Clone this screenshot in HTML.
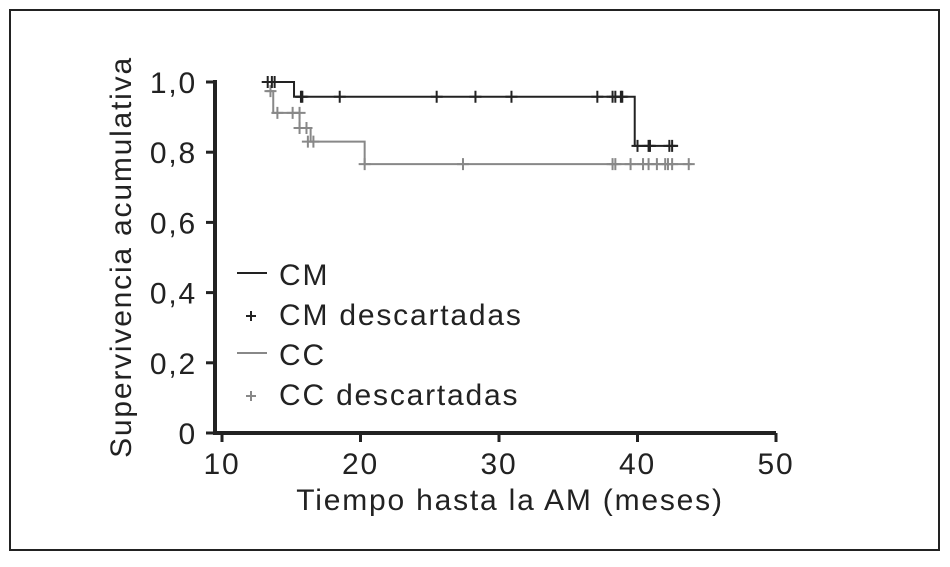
<!DOCTYPE html>
<html><head><meta charset="utf-8"><style>
body{margin:0;background:#fff}
svg text{font-family:"Liberation Sans",sans-serif;fill:#222;letter-spacing:1.8px}
</style></head><body>
<svg width="950" height="562">
<rect x="10" y="10" width="929" height="540" fill="none" stroke="#222" stroke-width="2"/>
<g id="g"></g>
</svg>
<script>
const xTicks=[10,20,30,40,50];
const yTicks=[0,0.2,0.4,0.6,0.8,1.0];
const yTickLabels=["0","0,2","0,4","0,6","0,8","1,0"];
const cmTimes=[13.0,15.2,39.8,42.9];
const cmSurv=[1.0,0.958,0.818,0.818];
const cmCensT=[13.3,13.6,13.8,15.7,15.8,18.5,25.5,28.3,30.9,37.1,38.2,38.4,38.8,38.9,40.0,40.8,40.9,42.3,42.5];
const cmCensS=[1,1,1,0.958,0.958,0.958,0.958,0.958,0.958,0.958,0.958,0.958,0.958,0.958,0.818,0.818,0.818,0.818,0.818];
const ccTimes=[13.2,13.7,15.6,16.4,20.3,43.9];
const ccSurv=[0.974,0.912,0.869,0.83,0.766,0.766];
const ccCensT=[13.5,14.0,15.1,15.6,15.6,16.1,16.2,16.6,20.3,27.4,38.2,38.4,39.5,40.4,40.8,41.4,42.0,42.2,42.5,43.7];
const ccCensS=[0.974,0.912,0.912,0.912,0.869,0.869,0.83,0.83,0.766,0.766,0.766,0.766,0.766,0.766,0.766,0.766,0.766,0.766,0.766,0.766];
const NS="http://www.w3.org/2000/svg",g=document.getElementById('g');
const X=v=>222+(v-10)*13.85, Y=v=>433-v*351;
function mk(t,a){const e=document.createElementNS(NS,t);for(const k in a)e.setAttribute(k,a[k]);g.appendChild(e);return e;}
let e=mk('line',{x1:215,y1:Y(1)-2,x2:215,y2:434,stroke:'#222','stroke-width':4});


e=mk('line',{x1:213,y1:433,x2:776,y2:433,stroke:'#222','stroke-width':4});


xTicks.forEach(v=>{mk('line',{x1:X(v),y1:433,x2:X(v),y2:442,stroke:'#222','stroke-width':3});
 const t=mk('text',{x:X(v),y:474,'font-size':30,'text-anchor':'middle'});t.textContent=v;
 
 });
yTicks.forEach((v,i)=>{mk('line',{x1:206,y1:Y(v),x2:215,y2:Y(v),stroke:'#222','stroke-width':3});
 const t=mk('text',{x:197,y:Y(v)+11,'font-size':30,'text-anchor':'end'});t.textContent=yTickLabels[i];
 
 });
function step(T,S,c,name){let d='M'+X(T[0])+','+Y(S[0]);for(let i=1;i<T.length;i++){d+='H'+X(T[i])+'V'+Y(S[i]);}
 const p=mk('path',{d:d,fill:'none',stroke:c,'stroke-width':2});
 
 }
function cens(T,S,c,name){T.forEach((t,i)=>{const p=mk('path',{d:`M${X(t)-6},${Y(S[i])}h12M${X(t)},${Y(S[i])-6}v12`,stroke:c,'stroke-width':2});
 
 });}
step(ccTimes,ccSurv,'#888','cc-curve');cens(ccCensT,ccCensS,'#888','cc-censor');
step(cmTimes,cmSurv,'#222','cm-curve');cens(cmCensT,cmCensS,'#222','cm-censor');
const leg=[['CM','line','#222'],['CM descartadas','plus','#222'],['CC','line','#888'],['CC descartadas','plus','#888']];
leg.forEach((l,i)=>{const y=273+i*40;
 if(l[1]=='line')mk('line',{x1:237,y1:y,x2:267,y2:y,stroke:l[2],'stroke-width':2});
 else mk('path',{d:`M246,${y+3}h10M251,${y-2}v10`,stroke:l[2],'stroke-width':2});
 const t=mk('text',{x:279,y:y+12,'font-size':30});t.textContent=l[0];
 
 });
let t=mk('text',{x:510,y:510,'font-size':30,'text-anchor':'middle'});t.textContent='Tiempo hasta la AM (meses)';


t=mk('text',{x:0,y:0,'font-size':30,'text-anchor':'middle',transform:'translate(131,257) rotate(-90)'});t.textContent='Supervivencia acumulativa';


</script>
</body></html>
